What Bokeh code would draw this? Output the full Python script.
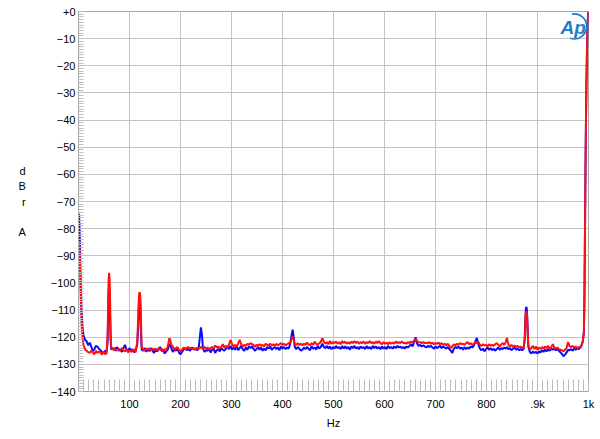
from bokeh.plotting import figure
from bokeh.models import Range1d, SingleIntervalTicker, Label
from bokeh.embed import file_html
from bokeh.resources import INLINE

# Frequencies (Hz) shared by both traces
freq = [
    1, 2, 3, 4, 6, 8, 10, 13, 16, 19,
    22, 25, 28, 31, 34, 37, 40, 43, 46, 49,
    52, 55, 57, 58, 59, 60, 61, 62, 63, 64,
    67, 70, 73, 76, 79, 82, 85, 88, 91, 94,
    97, 100, 103, 106, 109, 112, 115, 117, 118, 119,
    120, 121, 122, 123, 124, 127, 130, 133, 136, 139,
    142, 145, 148, 151, 154, 157, 160, 163, 166, 169,
    172, 175, 178, 180, 182, 185, 188, 191, 194, 197,
    200, 203, 206, 209, 212, 215, 218, 221, 224, 227,
    230, 233, 236, 238, 240, 242, 244, 247, 250, 253,
    256, 259, 262, 265, 268, 271, 274, 277, 280, 283,
    286, 289, 292, 295, 298, 301, 304, 307, 310, 313,
    316, 319, 322, 325, 328, 331, 334, 337, 340, 343,
    346, 349, 352, 355, 358, 361, 364, 367, 370, 373,
    376, 379, 382, 385, 388, 391, 394, 397, 400, 403,
    406, 409, 412, 415, 418, 420, 422, 424, 427, 430,
    433, 436, 439, 442, 445, 448, 451, 454, 457, 460,
    463, 466, 469, 472, 475, 478, 481, 484, 487, 490,
    493, 496, 499, 502, 505, 508, 511, 514, 517, 520,
    523, 526, 529, 532, 535, 538, 541, 544, 547, 550,
    553, 556, 559, 562, 565, 568, 571, 574, 577, 580,
    583, 586, 589, 592, 595, 598, 601, 604, 607, 610,
    613, 616, 619, 622, 625, 628, 631, 634, 637, 640,
    643, 646, 649, 652, 655, 658, 661, 664, 667, 670,
    673, 676, 679, 682, 685, 688, 691, 694, 697, 700,
    703, 706, 709, 712, 715, 718, 721, 724, 727, 730,
    733, 736, 739, 742, 745, 748, 751, 754, 757, 760,
    763, 766, 769, 772, 775, 778, 781, 784, 787, 790,
    793, 796, 799, 802, 805, 808, 811, 814, 817, 820,
    823, 826, 829, 832, 835, 838, 840, 843, 846, 849,
    852, 855, 858, 861, 864, 867, 870, 873, 875, 876,
    877, 878, 879, 880, 881, 882, 885, 888, 891, 894,
    897, 900, 903, 906, 909, 912, 915, 918, 921, 924,
    927, 930, 933, 936, 939, 942, 945, 948, 951, 954,
    957, 960, 963, 966, 969, 972, 975, 978, 981, 984,
    987, 989, 991, 992, 993, 994, 995, 996, 997, 998,
    999, 1000,
]

# Blue trace (dBr A)
blue_db = [
    -74.5, -80, -88, -97, -110, -116.5, -119.5, -121, -121.5, -123,
    -122, -123.5, -125, -124.5, -123.2, -123.5, -124.2, -124.8, -125.5, -125.8,
    -125, -125.5, -122, -114, -104, -101.2, -104, -113, -121, -124.5,
    -124, -124.8, -124, -123.8, -125, -124.6, -125.4, -124, -122.8, -124.5,
    -125.2, -124, -125, -124.4, -125.6, -124.6, -123, -117, -110, -106.5,
    -105.5, -108, -115, -121, -124.6, -125, -124, -125.4, -124.2, -125.2,
    -124, -125, -125.8, -124.6, -125.2, -124.4, -123.6, -125, -124.8, -126,
    -125.2, -124.6, -122.5, -123, -124, -125.4, -124.6, -125, -124.2, -125.6,
    -126.3, -125.4, -124.6, -124, -124.8, -124.2, -125, -124.4, -123.8, -124.6,
    -124.2, -124.8, -123.5, -120, -116.4, -119, -124, -125.4, -124.8, -125,
    -124.2, -125.6, -124.6, -124.2, -125.8, -124.8, -124.4, -125.2, -124, -124.6,
    -125, -124.2, -123.6, -124.4, -123.2, -124.6, -123.8, -124.6, -123.4, -124.8,
    -124, -123.2, -124.4, -125, -123.8, -124.6, -123.4, -124, -123.4, -124.2,
    -125, -124.4, -123.6, -124.6, -123.8, -125, -124.2, -124.8, -123.6, -124.2,
    -123.4, -124.6, -124, -123.6, -124.4, -123.8, -124.8, -123.4, -124.2, -123.6,
    -124.4, -123.8, -124.2, -122.5, -119, -117.2, -120, -123.5, -124.4, -123.6,
    -124.2, -125, -124.6, -123.8, -124.4, -123.6, -124.2, -124.8, -123.4, -124.2,
    -123.8, -124.6, -123.2, -124.2, -123.6, -122.4, -123.6, -124, -123.2, -124.2,
    -123.4, -124.4, -123.6, -124.2, -123.2, -124, -123.6, -124.4, -123.2, -124.2,
    -123.4, -124.2, -123.6, -124.6, -123.4, -124, -123.2, -124.2, -123.6, -124.4,
    -123.4, -124, -123.6, -124.4, -123.2, -124.2, -123.6, -124.4, -123.2, -124,
    -123.4, -124.2, -123.6, -124.4, -123.4, -124.2, -123.6, -124.4, -123.2, -124,
    -123.6, -124.2, -123.4, -124, -123.2, -123.8, -123.4, -124, -123.6, -124.2,
    -123.4, -123.8, -123.2, -122.6, -123.4, -121.8, -120, -122.4, -123.2, -122.8,
    -123.4, -123, -123.4, -123.8, -123.2, -123.6, -123.2, -123.8, -124.2, -123.4,
    -124, -123.6, -123.2, -124, -123.4, -123.8, -124.2, -123.6, -124.4, -125,
    -125.8, -124.2, -123.6, -124, -123.4, -124.2, -123.8, -124.6, -123.6, -124.4,
    -123.8, -124.2, -123.4, -123.8, -123.2, -121.6, -120.3, -122.6, -124.2, -124.8,
    -124.2, -125.2, -124.4, -123.8, -124.6, -124, -124.8, -124.2, -125, -124.4,
    -123.8, -124.6, -124, -124.4, -123.8, -124.2, -123.6, -124.4, -124, -124.8,
    -124.2, -123.8, -124.6, -124.2, -124.8, -124.4, -124.8, -124.2, -120, -114,
    -110, -108.8, -109.5, -113, -119, -123.5, -125.4, -126, -125.2, -125.8,
    -125.4, -126, -125.2, -125.6, -124.8, -125.4, -124.6, -125.2, -124.4, -125,
    -124.2, -124.6, -124.2, -124.8, -124.4, -125, -125.6, -126.2, -127, -126.4,
    -125.6, -124.6, -124.8, -124.4, -125, -124.2, -124.6, -124, -124.4, -123.8,
    -122.6, -121.5, -118, -106, -84, -60, -41, -26, -15, -7,
    -1.5, 0,
]

# Red trace (dBr A)
red_db = [
    -84.5, -88, -95, -103, -115, -120.5, -123, -124.5, -125, -125.5,
    -125.8, -125, -125.5, -126.3, -125, -125.8, -125.2, -125.6, -126.4, -125.5,
    -126.2, -126, -120, -109, -99, -96.3, -98.5, -107, -118, -123.5,
    -124.5, -124, -125, -124.6, -124.2, -124.8, -124, -124.8, -125.2, -124.4,
    -125.6, -124.8, -125.4, -125, -124.5, -125.6, -122, -113, -107, -104,
    -103.4, -104.5, -109, -118, -123.5, -124.5, -125, -124.2, -124.6, -124,
    -124.8, -124.2, -124.6, -124.2, -124.8, -124, -124.6, -124.2, -125, -124.4,
    -124.8, -123.4, -120.4, -121, -122.8, -123.5, -124.6, -124, -123.6, -124.8,
    -125.2, -124.6, -123.8, -124.4, -124, -123.6, -124.2, -123.8, -124.4, -124,
    -124.6, -123.8, -124.2, -124, -123.6, -124, -124.2, -123.6, -124.2, -123.8,
    -124.4, -124, -123.6, -124.2, -123, -123.8, -123.4, -124.2, -123.6, -122.6,
    -123.8, -123.2, -123.8, -122.8, -121, -122.5, -123.4, -122.8, -123.6, -122.4,
    -121, -122.6, -123.4, -122.8, -123.2, -122.4, -122.8, -122.2, -122.6, -122.8,
    -123.6, -122.8, -123.2, -122.6, -123.2, -122.8, -123.4, -122.4, -122.8, -123,
    -122.4, -123, -122.6, -123.2, -122.4, -123, -122.6, -122.2, -122.8, -122.4,
    -123, -122.6, -122.2, -122, -120.5, -119.7, -121, -122.6, -122.8, -122.2,
    -122.8, -122.4, -123, -122.4, -122.8, -122, -122.6, -123, -122.2, -122.8,
    -121.6, -122.4, -122.8, -122.2, -121.8, -120.3, -121.6, -122.4, -121.8, -122.6,
    -121.4, -122.4, -121.8, -122.2, -121.6, -122.4, -121.8, -122.6, -121.4, -122.2,
    -121.6, -122.4, -121.8, -122.4, -121.6, -122.2, -121.4, -122.2, -121.6, -122.4,
    -121.8, -122.2, -121.6, -122.4, -121.8, -122.2, -121.4, -122.2, -121.8, -122.4,
    -121.6, -122.2, -121.4, -122.2, -122.6, -121.8, -122.4, -122, -122.6, -121.8,
    -122.4, -122, -122.4, -121.6, -122.2, -121.8, -122.2, -121.6, -122.2, -122,
    -122.4, -121.8, -122.2, -121.6, -122, -121.2, -120.6, -121.4, -122, -121.8,
    -122.2, -121.8, -122.2, -122, -122.2, -121.8, -122.4, -122, -122.6, -122.2,
    -122.4, -122, -122.6, -122.2, -122.8, -122.4, -123, -122.4, -123.2, -124,
    -123.4, -122.6, -123, -122.4, -122.8, -122.2, -122.6, -122.4, -122.8, -122.2,
    -121.8, -122.6, -122.2, -122.8, -122.4, -121.8, -122.2, -121.6, -122.8, -123.2,
    -122.6, -123, -122.8, -123.4, -122.6, -123.2, -122.8, -123.2, -122.6, -122.2,
    -122.8, -123.4, -122.6, -122.2, -122.8, -121.6, -120.3, -122.8, -123.4, -122.8,
    -123.6, -123, -123.6, -123.2, -123.8, -123.4, -124, -123.6, -121, -116,
    -111.5, -110.4, -111, -114, -119.5, -122.8, -124.6, -124, -123.2, -124.4,
    -123.4, -124.6, -123.8, -124.4, -123.6, -124.2, -123.4, -124, -123.2, -124.4,
    -123.6, -122.6, -123.8, -124.2, -123.8, -124.4, -124.6, -124.8, -125.2, -124.6,
    -124, -121.8, -123.4, -123.6, -123.2, -123.8, -123.4, -124, -123.6, -123.8,
    -122.8, -121.2, -118, -106, -84, -60, -41, -26, -15, -7,
    -1.5, 0,
]

assert len(freq) == len(blue_db) == len(red_db)

y_ticks_minor = 10
x_ticks_minor = 10
x_label_overrides = {0: "", 900: ".9k", 1000: "1k"}
y_label_overrides = {0: "+0"}
y_axis_title = "d\nB\nr\n\nA"
x_axis_title = "Hz"

FONT = "Liberation Sans"
GRID = "#c4c4c4"
TICK = "#bdbdbd"
BORDER = "#a6a6a6"

p = figure(width=600, height=439, output_backend="svg", toolbar_location=None,
           x_range=Range1d(0, 1000), y_range=Range1d(-140, 0),
           min_border_left=78, min_border_right=12, min_border_top=11,
           min_border_bottom=48)
p.background_fill_color = "white"
p.border_fill_color = "white"
p.outline_line_color = BORDER
p.outline_line_width = 1

p.xaxis.ticker = SingleIntervalTicker(interval=100, num_minor_ticks=x_ticks_minor)
p.yaxis.ticker = SingleIntervalTicker(interval=10, num_minor_ticks=y_ticks_minor)
p.xaxis.major_label_overrides = x_label_overrides
p.yaxis.major_label_overrides = y_label_overrides

for ax in (p.xaxis[0], p.yaxis[0]):
    ax.axis_line_color = BORDER
    ax.major_tick_in = 0
    ax.major_tick_out = 0
    ax.minor_tick_out = 0
    ax.minor_tick_line_color = TICK
    ax.major_label_text_font = FONT
    ax.major_label_text_font_size = "11px"
    ax.major_label_text_color = "black"
    ax.axis_label_text_font = FONT
    ax.axis_label_text_font_size = "11px"
    ax.axis_label_text_font_style = "normal"
    ax.axis_label_text_color = "black"

p.yaxis.minor_tick_in = 5
p.xaxis.minor_tick_in = 12
p.yaxis.major_label_standoff = 3
p.xaxis.major_label_standoff = 6
p.xaxis.axis_label = x_axis_title
p.xaxis.axis_label_standoff = 4

yax = p.yaxis[0]
if "axis_label_orientation" in yax.properties():
    yax.axis_label = y_axis_title
    yax.axis_label_orientation = "horizontal"
    yax.axis_label_standoff = 22
    yax.axis_label_text_line_height = 1.27
else:
    for i, letter in enumerate(["d", "B", "r", "", "A"]):
        if letter:
            p.add_layout(Label(x=-56, y=-62 - 5.2 * i + 62 - 59, x_units="screen",
                               text=letter, text_font=FONT, text_font_size="11px",
                               text_align="center", text_baseline="middle"))

p.xgrid.grid_line_color = GRID
p.ygrid.grid_line_color = GRID
p.xgrid.grid_line_width = 1
p.ygrid.grid_line_width = 1

p.line(freq, blue_db, line_color="#0a0aff", line_width=2)
p.line(freq, red_db, line_color="#ff1010", line_width=2)

# Ap logo
LOGO = "#1f7fc4"
p.add_layout(Label(x=970, y=-5.8, text="Ap", text_font=FONT, text_font_size="19px",
                   text_font_style="bold italic", text_align="center",
                   text_baseline="middle", text_color=LOGO))
p.arc(x=[972], y=[-5.5], radius=12.5, radius_units="screen",
      start_angle=-1.9, end_angle=1.75, line_color=LOGO, line_width=1.6)

open("out.html", "w").write(file_html(p, INLINE))
